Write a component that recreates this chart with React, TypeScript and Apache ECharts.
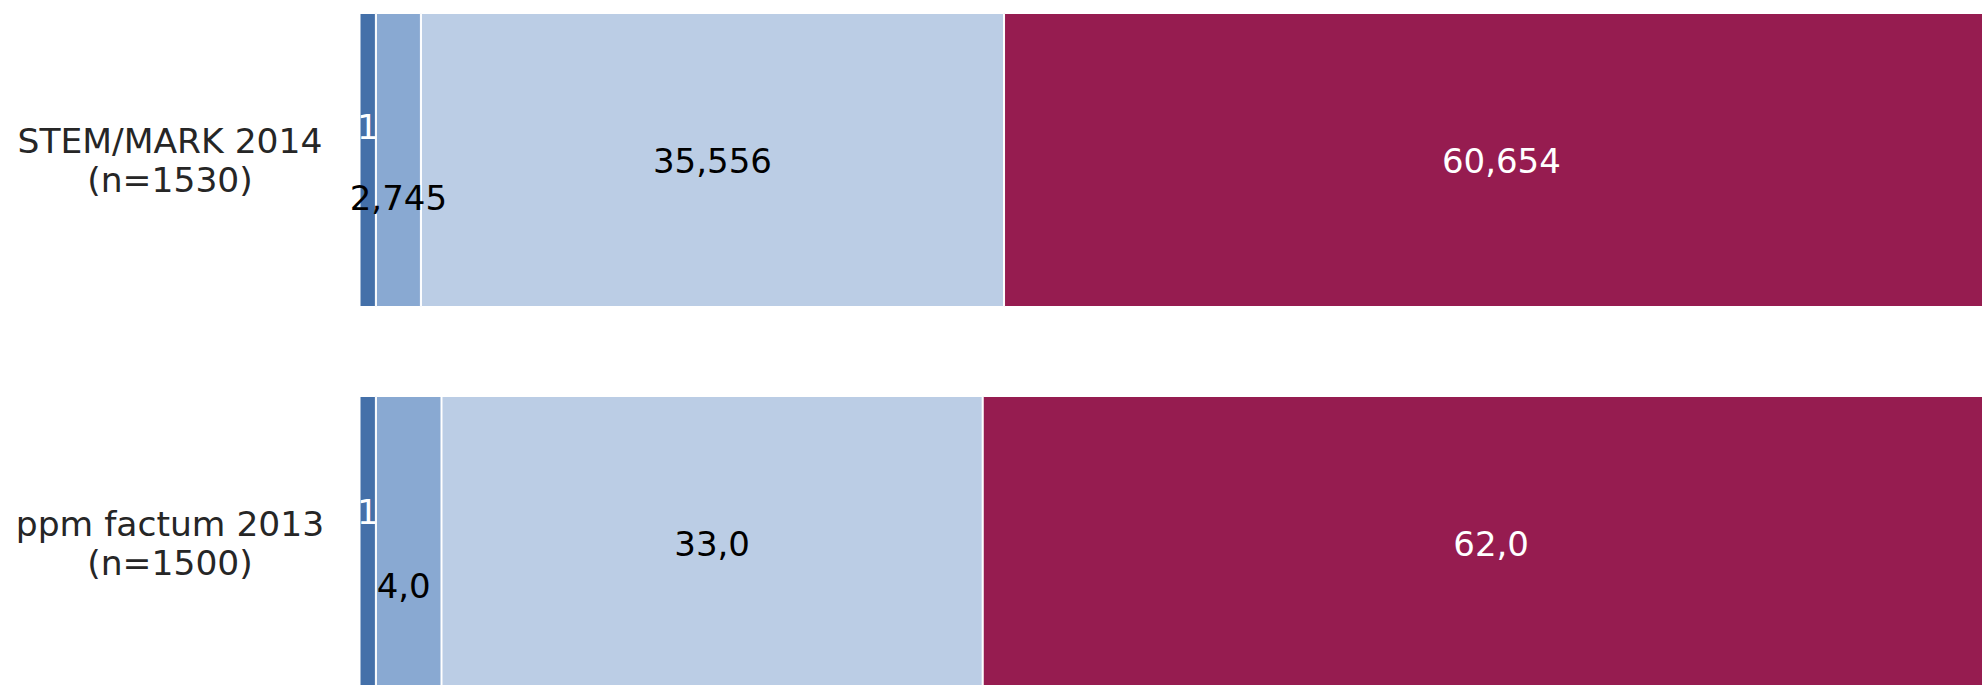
import React, { useEffect, useRef } from "react";
import * as echarts from "echarts";

const categories = ["STEM/MARK 2014\n(n=1530)", "ppm factum 2013\n(n=1500)"];
const seriesA = [1, 1];
const seriesB = [2.745, 4.0];
const seriesC = [35.556, 33.0];
const seriesD = [60.654, 62.0];
const decimals = [3, 1];

const colors = ["#4470a9", "#89a9d2", "#bbcde5", "#961c50"];
const labelColors = ["#ffffff", "#000000", "#000000", "#ffffff"];
const labelOffsets = [
  [[0, -33], [0, -31]],
  [[0, 38], [-5, 43]],
  [[0, 1], [0, 1]],
  [[0, 1], [0, 1]],
];

export default function App() {
  const ref = useRef<HTMLDivElement>(null);
  useEffect(() => {
    if (!ref.current) return;
    const chart = echarts.init(ref.current, null, { renderer: "svg" });
    const all = [seriesA, seriesB, seriesC, seriesD];
    const series = all.map((vals, si) => ({
      type: "bar",
      stack: "total",
      barWidth: 294,
      data: vals.map((v, di) => ({
        value: v,
        label: { offset: labelOffsets[si][di] },
      })),
      itemStyle: { color: colors[si], borderColor: "#ffffff", borderWidth: 1 },
      label: {
        show: true,
        position: "inside",
        color: labelColors[si],
        fontFamily: "DejaVu Sans",
        fontSize: 34,
        formatter: (p: any) =>
          si === 0 ? String(p.value) : Number(p.value).toFixed(decimals[p.dataIndex]).replace(".", ","),
      },
    }));
    chart.setOption({
      animation: false,
      grid: { left: 359.5, top: 8.5, width: 1640, height: 766, containLabel: false },
      xAxis: { type: "value", min: 0, max: 100, show: false },
      yAxis: {
        type: "category",
        inverse: true,
        data: categories,
        axisLine: { show: false },
        axisTick: { show: false },
        axisLabel: {
          align: "center",
          margin: 189.5,
          fontFamily: "DejaVu Sans",
          fontSize: 34.5,
          lineHeight: 39,
          padding: [0, 0, 5, 0],
          color: "#262626",
        },
      },
      series,
    });
    return () => chart.dispose();
  }, []);
  return (
    <div style={{ position: "fixed", left: 0, top: 0, right: 0, bottom: 0, overflow: "hidden", background: "#fff" }}>
      <div ref={ref} style={{ position: "absolute", left: 0, top: -40, width: 2010, height: 780 }} />
    </div>
  );
}
